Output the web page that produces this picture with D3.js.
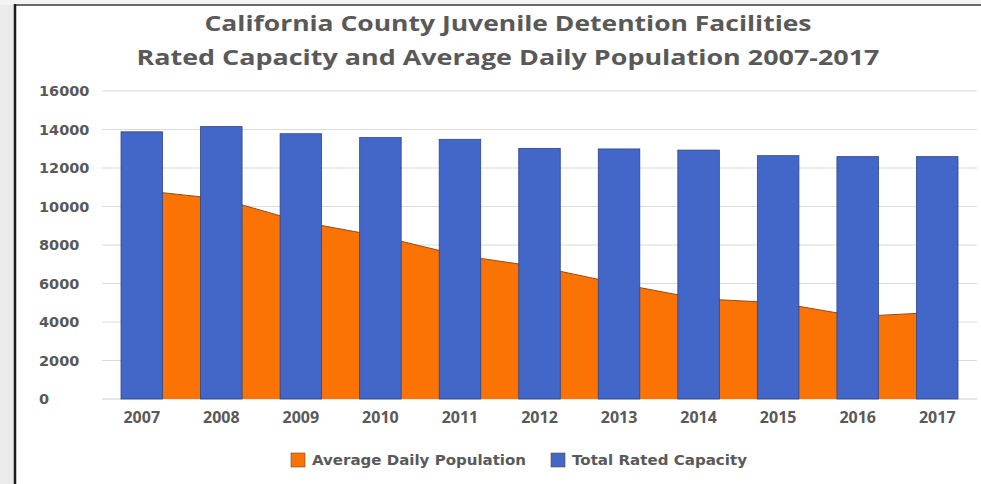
<!DOCTYPE html>
<html>
<head>
<meta charset="utf-8">
<script src="https://cdn.jsdelivr.net/npm/d3@7"></script>
<style>
  html, body { margin: 0; padding: 0; background: #ececec; }
  svg { display: block; }
</style>
</head>
<body>
<svg id="chart" width="981" height="484"></svg>
<script>
// Data: California county juvenile detention facilities, 2007-2017
const years = ["2007","2008","2009","2010","2011","2012","2013","2014","2015","2016","2017"];
const averageDailyPopulation = [10830, 10390, 9210, 8450, 7460, 6860, 5990, 5210, 5000, 4290, 4500];
const totalRatedCapacity = [13880, 14150, 13780, 13580, 13490, 13020, 12990, 12930, 12640, 12590, 12590];
const yTicks = [0, 2000, 4000, 6000, 8000, 10000, 12000, 14000, 16000];
const titleLines = [
  "California County Juvenile Detention Facilities",
  "Rated Capacity and Average Daily Population 2007-2017"
];
const seriesNames = ["Average Daily Population", "Total Rated Capacity"];

const colors = { adp: "#fb7305", cap: "#4267c9", text: "#595959", grid: "#dcdcdc" };

const svg = d3.select("#chart");
const W = 981, H = 484;

// page background and chart frame
svg.append("rect").attr("x", 0).attr("y", 0).attr("width", W).attr("height", H).attr("fill", "#ebebeb");
svg.append("rect").attr("x", 0).attr("y", 0).attr("width", W).attr("height", 5).attr("fill", "#f3f3f3");
svg.append("rect").attr("x", 15).attr("y", 5).attr("width", W - 15).attr("height", H - 5).attr("fill", "#ffffff");
svg.append("line").attr("x1", 15).attr("x2", W).attr("y1", 5).attr("y2", 5)
  .attr("stroke", "#6a6a6a").attr("stroke-width", 2);
svg.append("line").attr("x1", 15).attr("x2", 15).attr("y1", 4).attr("y2", H)
  .attr("stroke", "#1e1e1e").attr("stroke-width", 2.5);

// title
const titleWidths = [607, 743];
titleLines.forEach((t, i) => {
  svg.append("text")
    .attr("x", 508).attr("y", 31 + i * 34)
    .attr("text-anchor", "middle")
    .attr("font-family", "'Open Sans', sans-serif")
    .attr("font-weight", 700)
    .attr("font-size", 22)
    .attr("fill", colors.text)
    .attr("textLength", titleWidths[i])
    .attr("lengthAdjust", "spacingAndGlyphs")
    .text(t);
});

// scales
const x = d3.scaleBand().domain(years).range([102, 977]).paddingInner(0.478).paddingOuter(0.239);
const y = d3.scaleLinear().domain([0, 16000]).range([399, 91]);

// gridlines
const grid = svg.append("g");
grid.selectAll("line").data(yTicks).join("line")
  .attr("x1", 102).attr("x2", 977)
  .attr("y1", d => y(d)).attr("y2", d => y(d))
  .attr("stroke", d => d === 0 ? "#cfcfcf" : colors.grid)
  .attr("stroke-width", 1.2);

// y axis labels (left aligned, plain integers)
const yAxis = d3.axisLeft(y).tickValues(yTicks).tickFormat(d3.format("d")).tickSize(0).tickPadding(0);
const yg = svg.append("g").attr("transform", "translate(39,0)").call(yAxis);
yg.select(".domain").remove();
yg.selectAll("text")
  .attr("text-anchor", "start")
  .attr("x", 0)
  .attr("font-family", "'DejaVu Sans', sans-serif")
  .attr("font-weight", "bold")
  .attr("font-size", 14.5)
  .attr("fill", colors.text);

// average daily population area, through category centres
const cx = d => x(d) + x.bandwidth() / 2;
const area = d3.area()
  .x((d, i) => cx(years[i]))
  .y0(y(0))
  .y1(d => y(d));
const line = d3.line()
  .x((d, i) => cx(years[i]))
  .y(d => y(d));
svg.append("path").datum(averageDailyPopulation)
  .attr("d", area).attr("fill", colors.adp);
svg.append("path").datum(averageDailyPopulation)
  .attr("d", line).attr("fill", "none").attr("stroke", "#9a4a10").attr("stroke-width", 1);

// total rated capacity bars
svg.append("g").selectAll("rect").data(totalRatedCapacity).join("rect")
  .attr("x", (d, i) => x(years[i]))
  .attr("width", x.bandwidth())
  .attr("y", d => y(d))
  .attr("height", d => y(0) - y(d))
  .attr("fill", colors.cap)
  .attr("stroke", "#2c4585")
  .attr("stroke-width", 0.8);

// x axis labels
const xAxis = d3.axisBottom(x).tickSize(0).tickPadding(0);
const xg = svg.append("g").attr("transform", "translate(0,412)").call(xAxis);
xg.select(".domain").remove();
xg.selectAll("text")
  .attr("dy", "0.71em")
  .attr("font-family", "'Open Sans', sans-serif")
  .attr("font-weight", 700)
  .attr("font-size", 16)
  .attr("fill", colors.text);

// legend
const legend = [
  { name: seriesNames[0], color: colors.adp, x: 291, w: 214 },
  { name: seriesNames[1], color: colors.cap, x: 551, w: 175 }
];
const lg = svg.append("g");
legend.forEach(l => {
  lg.append("rect").attr("x", l.x).attr("y", 453).attr("width", 14).attr("height", 14)
    .attr("fill", l.color).attr("stroke", "#6b4a2a").attr("stroke-width", 0.6);
  lg.append("text")
    .attr("x", l.x + 21).attr("y", 465)
    .attr("font-family", "'DejaVu Sans', sans-serif")
    .attr("font-weight", "bold")
    .attr("font-size", 13.5)
    .attr("fill", colors.text)
    .attr("textLength", l.w)
    .attr("lengthAdjust", "spacingAndGlyphs")
    .text(l.name);
});
</script>
</body>
</html>
